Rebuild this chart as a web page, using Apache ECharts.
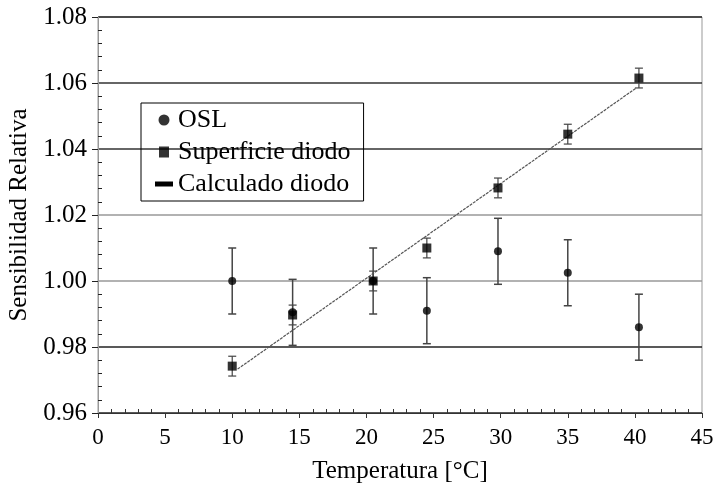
<!DOCTYPE html>
<html>
<head>
<meta charset="utf-8">
<script src="https://cdn.jsdelivr.net/npm/echarts@6/dist/echarts.min.js"></script>
<style>
  html, body { margin: 0; padding: 0; background: #fff; }
  #chart { width: 717px; height: 494px; }
</style>
</head>
<body>
<div id="chart"></div>
<script>
// Temperature (°C) for each measurement
const temps = [10, 14.5, 20.5, 24.5, 29.8, 35.0, 40.3]
// OSL relative sensitivity and its error
const oslValues = [1.000, 0.9905, 1.000, 0.991, 1.009, 1.0025, 0.986]
const oslErr = [0.010, 0.010, 0.010, 0.010, 0.010, 0.010, 0.010]
// Diode surface relative sensitivity and its error
const diodoValues = [0.9742, 0.9897, 1.000, 1.010, 1.0282, 1.0445, 1.0615]
const diodoErr = [0.003, 0.003, 0.003, 0.003, 0.003, 0.003, 0.003]
// Calculated diode line end points [temp, value]
const calcLine = [[10.4, 0.9733], [40.1, 1.0585]]

const serif = 'Liberation Serif'

const chart = echarts.init(document.getElementById('chart'))

function errorSeries(values, errs, color, width) {
  return {
    type: 'custom',
    silent: true,
    z: 1,
    data: temps.map((t, i) => [t, values[i] - errs[i], values[i] + errs[i]]),
    renderItem(params, api) {
      const lo = api.coord([api.value(0), api.value(1)])
      const hi = api.coord([api.value(0), api.value(2)])
      const cap = 4
      const style = { stroke: color, lineWidth: width }
      return {
        type: 'group',
        children: [
          { type: 'line', shape: { x1: lo[0], y1: lo[1], x2: hi[0], y2: hi[1] }, style },
          { type: 'line', shape: { x1: lo[0] - cap, y1: lo[1], x2: lo[0] + cap, y2: lo[1] }, style },
          { type: 'line', shape: { x1: hi[0] - cap, y1: hi[1], x2: hi[0] + cap, y2: hi[1] }, style },
        ],
      }
    },
  }
}

chart.setOption({
  animation: false,
  textStyle: { fontFamily: serif },
  grid: {
    left: 98, right: 15, top: 17, bottom: 81, outerBoundsMode: 'none',
    show: true, borderColor: '#999', borderWidth: 1,
  },
  legend: {
    orient: 'vertical',
    left: 141,
    top: 103,
    padding: [4, 13, 4, 14],
    itemGap: 6,
    itemWidth: 18,
    itemHeight: 11,
    borderColor: '#000',
    borderWidth: 1,
    textStyle: { fontFamily: serif, fontSize: 26, color: '#000' },
    data: [
      { name: 'OSL', icon: 'circle' },
      { name: 'Superficie diodo', icon: 'path://M0,0 L10,0 L10,11 L0,11 Z' },
      { name: 'Calculado diodo', icon: 'path://M0,0 L18,0 L18,5 L0,5 Z' },
    ],
  },
  xAxis: {
    type: 'value',
    min: 0,
    max: 45,
    interval: 5,
    name: 'Temperatura [°C]',
    nameLocation: 'middle',
    nameGap: 46,
    nameTextStyle: { fontFamily: serif, fontSize: 25, color: '#000' },
    axisLine: { lineStyle: { color: '#333', width: 1 } },
    axisTick: { inside: false, length: 5, lineStyle: { color: '#333' } },
    minorTick: { show: true, splitNumber: 5, length: -4, lineStyle: { color: '#333' } },
    axisLabel: { fontFamily: serif, fontSize: 23, color: '#000', margin: 13 },
    splitLine: { show: false },
  },
  yAxis: {
    type: 'value',
    min: 0.96,
    max: 1.08,
    interval: 0.02,
    name: 'Sensibilidad Relativa',
    nameLocation: 'middle',
    nameGap: 58,
    nameTextStyle: { fontFamily: serif, fontSize: 25, color: '#000' },
    axisLine: { lineStyle: { color: '#999', width: 1 } },
    axisTick: { length: 6, lineStyle: { color: '#222' } },
    minorTick: { show: true, splitNumber: 5, length: -4, lineStyle: { color: '#222' } },
    axisLabel: { fontFamily: serif, fontSize: 25, color: '#000', margin: 11, formatter: (v) => v.toFixed(2) },
    splitLine: {
      show: true,
      lineStyle: { color: ['#333', '#222', '#999', '#999', '#333', '#333', '#222'], width: 1.6 },
    },
  },
  series: [
    errorSeries(oslValues, oslErr, '#444', 1.5),
    errorSeries(diodoValues, diodoErr, '#444', 1.2),
    {
      name: 'Calculado diodo',
      type: 'line',
      data: calcLine,
      symbol: 'none',
      z: 2,
      lineStyle: { color: '#555', width: 1.2, type: [3, 1] },
      itemStyle: { color: '#000' },
    },
    {
      name: 'OSL',
      type: 'scatter',
      data: temps.map((t, i) => [t, oslValues[i]]),
      symbol: 'circle',
      symbolSize: 8,
      z: 3,
      itemStyle: { color: '#000' },
    },
    {
      name: 'Superficie diodo',
      type: 'scatter',
      data: temps.map((t, i) => [t, diodoValues[i]]),
      symbol: 'rect',
      symbolSize: 9,
      z: 4,
      itemStyle: { color: '#000' },
    },
  ],
})
</script>
</body>
</html>
